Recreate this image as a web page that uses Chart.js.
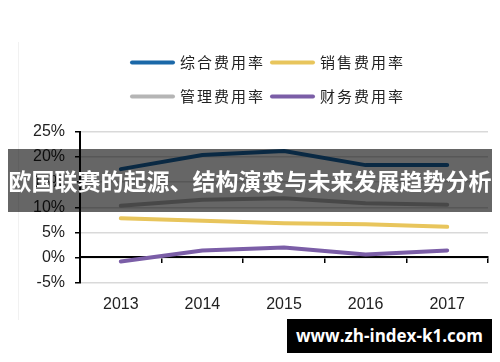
<!DOCTYPE html>
<html>
<head>
<meta charset="utf-8">
<script src="https://cdn.jsdelivr.net/npm/chart.js@4"></script>
<style>
  html, body { margin: 0; padding: 0; background: #fff; }
  #wrap { position: relative; width: 500px; height: 362px; overflow: hidden; }
  #c { position: absolute; left: 0; top: 0; }
  #frame { position: absolute; left: 18px; top: 42px; width: 0; height: 278px; border-left: 1px solid #f1f1f1; }
  #banner { position: absolute; left: 8px; top: 149px; width: 484px; height: 63px; background: rgba(0,0,0,0.6);
            color: #fff; font: bold 23px "Noto Sans CJK SC", sans-serif; line-height: 63px; text-align: center; white-space: nowrap; }
  #wm { position: absolute; left: 287px; top: 319px; width: 205px; height: 34px; background: #000; color: #fff;
        font: bold 17px "Open Sans", "DejaVu Sans", sans-serif; line-height: 34px; text-align: center; white-space: nowrap; }
</style>
</head>
<body>
<div id="wrap">
  <canvas id="c" width="500" height="362"></canvas>
  <div id="frame"></div>
  <div id="banner">欧国联赛的起源、结构演变与未来发展趋势分析</div>
  <div id="wm">www.zh-index-k1.com</div>
</div>
<script>
const years = ['2013', '2014', '2015', '2016', '2017'];
const seriesNames = ['综合费用率', '销售费用率', '管理费用率', '财务费用率'];
const totalRate = [17.6, 20.4, 21.2, 18.4, 18.4];
const salesRate = [7.8, 7.3, 6.8, 6.6, 6.1];
const adminRate = [10.3, 11.5, 11.8, 10.8, 10.5];
const financeRate = [-0.8, 1.4, 2.0, 0.6, 1.4];
const yTicks = [-5, 0, 5, 10, 15, 20, 25];

const colors = ['#1b68a8', '#e8c55c', '#b5b5b5', '#7b5ea7'];
const values = [totalRate, salesRate, adminRate, financeRate];

const legendPlugin = {
  id: 'twoRowLegend',
  afterDraw(chart) {
    const ctx = chart.ctx;
    const ds = chart.data.datasets;
    const cols = [130, 270];
    const rows = [62.5, 96.5];
    ctx.save();
    ds.forEach((d, i) => {
      const x = cols[i % 2];
      const y = rows[Math.floor(i / 2)];
      ctx.strokeStyle = d.borderColor;
      ctx.lineWidth = 4;
      ctx.lineCap = 'round';
      ctx.beginPath();
      ctx.moveTo(x + 2, y);
      ctx.lineTo(x + 43, y);
      ctx.stroke();
      ctx.fillStyle = '#222';
      ctx.font = '15px "Noto Sans CJK SC", sans-serif';
      ctx.textBaseline = 'middle';
      ctx.textAlign = 'left';
      if ('letterSpacing' in ctx) ctx.letterSpacing = '2px';
      ctx.fillText(d.label, x + 50, y);
    });
    ctx.restore();
  }
};

new Chart(document.getElementById('c'), {
  type: 'line',
  data: {
    labels: years,
    datasets: seriesNames.map((n, i) => ({
      label: n,
      data: values[i],
      borderColor: colors[i],
      backgroundColor: colors[i],
      borderWidth: 4,
      borderCapStyle: 'round',
      borderJoinStyle: 'round',
      pointRadius: 0,
      tension: 0,
      fill: false
    }))
  },
  options: {
    responsive: false,
    animation: false,
    devicePixelRatio: 1,
    layout: { padding: { left: 0, right: 12, top: 132, bottom: 0 } },
    plugins: { legend: { display: false }, tooltip: { enabled: false } },
    scales: {
      x: {
        type: 'category',
        position: 'bottom',
        offset: true,
        grid: { display: false, drawTicks: false },
        border: { display: false },
        ticks: { color: '#222', font: { family: 'Liberation Sans, Arial, sans-serif', size: 16 }, padding: 12, maxRotation: 0 },
        afterFit(s) { s.height = 79.5; }
      },
      x2: {
        type: 'category',
        labels: years,
        position: { y: 0 },
        offset: true,
        grid: { offset: true, drawOnChartArea: false, drawTicks: true, tickLength: 5, color: '#000', tickColor: '#000', lineWidth: 1.5 },
        border: { display: true, color: '#000', width: 2 },
        ticks: { display: false }
      },
      y: {
        min: -5,
        max: 25,
        afterBuildTicks(s) { s.ticks = yTicks.map(v => ({ value: v })); },
        grid: { color: '#d9d9d9', lineWidth: 1.5, tickLength: 5, tickColor: '#000' },
        border: { display: true, color: '#000', width: 2 },
        ticks: { color: '#222', font: { family: 'Liberation Sans, Arial, sans-serif', size: 16 }, padding: 10,
                 callback: v => v + '%' },
        afterFit(s) { s.width = 80; }
      }
    }
  },
  plugins: [legendPlugin]
});
</script>
</body>
</html>
